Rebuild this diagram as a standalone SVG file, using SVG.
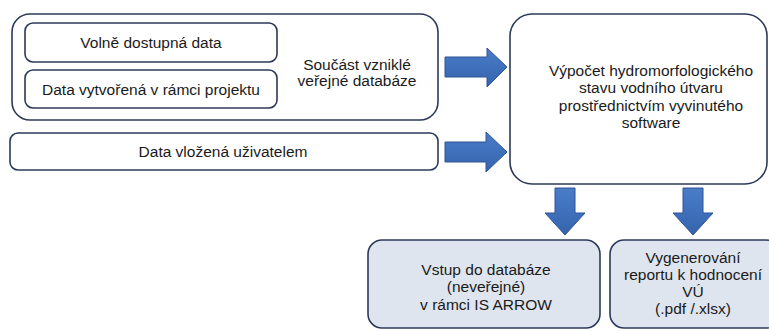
<svg xmlns="http://www.w3.org/2000/svg" width="769" height="331" viewBox="0 0 769 331">
  <defs>
    <style>
      .box { fill: #ffffff; stroke: #2c3a58; stroke-width: 1.6; }
      .out { fill: #dfe5ee; stroke: #2c3a58; stroke-width: 1.6; }
      .t { font-family: "Liberation Sans", Arial, sans-serif; font-size: 15.5px; fill: #1a1a1a; text-anchor: middle; }
      .arrow { fill: url(#arrowFill); stroke: #2f5597; stroke-width: 1; }
    </style>
    <linearGradient id="arrowFill" x1="0" y1="0" x2="0" y2="1">
      <stop offset="0" stop-color="#4a7cc8"/>
      <stop offset="1" stop-color="#3564ad"/>
    </linearGradient>
  </defs>
  <rect width="769" height="331" fill="#ffffff"/>

  <!-- public database group -->
  <g id="public-db">
    <rect class="box" x="12" y="14" width="426" height="106" rx="18" ry="18"/>
    <text class="t" x="357" y="70">Součást vzniklé</text>
    <text class="t" x="357" y="86">veřejné databáze</text>
  </g>
  <g id="free-data">
    <rect class="box" x="25" y="23" width="252" height="39" rx="8" ry="8"/>
    <text class="t" x="151" y="48">Volně dostupná data</text>
  </g>
  <g id="project-data">
    <rect class="box" x="25" y="70" width="252" height="38" rx="8" ry="8"/>
    <text class="t" x="151" y="95">Data vytvořená v rámci projektu</text>
  </g>
  <g id="user-data">
    <rect class="box" x="10" y="133" width="428" height="37" rx="8" ry="8"/>
    <text class="t" x="223" y="157">Data vložená uživatelem</text>
  </g>

  <!-- calculation -->
  <g id="calculation">
    <rect class="box" x="510" y="14" width="257" height="170" rx="22" ry="22"/>
    <text class="t" x="651" y="76">Výpočet hydromorfologického</text>
    <text class="t" x="651" y="93">stavu vodního útvaru</text>
    <text class="t" x="651" y="111">prostřednictvím vyvinutého</text>
    <text class="t" x="651" y="128">software</text>
  </g>

  <!-- outputs -->
  <g id="db-entry">
    <rect class="out" x="368" y="240" width="232" height="88" rx="14" ry="14"/>
    <text class="t" x="486" y="275">Vstup do databáze</text>
    <text class="t" x="486" y="292">(neveřejné)</text>
    <text class="t" x="486" y="310">v rámci IS ARROW</text>
  </g>
  <g id="report">
    <rect class="out" x="610" y="240" width="170" height="88" rx="14" ry="14"/>
    <text class="t" x="693" y="263">Vygenerování</text>
    <text class="t" x="693" y="280">reportu k hodnocení</text>
    <text class="t" x="693" y="297">VÚ</text>
    <text class="t" x="693" y="314">(.pdf /.xlsx)</text>
  </g>

  <!-- connectors -->
  <g id="connectors">
    <polygon class="arrow" points="445,57 487,57 487,48 507,67 487,87 487,77 445,77"/>
    <polygon class="arrow" points="445,142 486,142 486,132 507,152 486,172 486,162 445,162"/>
    <polygon class="arrow" points="555,188 575,188 575,213 585,213 565,235 545,213 555,213"/>
    <polygon class="arrow" points="683,188 703,188 703,213 713,213 693,235 673,213 683,213"/>
  </g>
</svg>
